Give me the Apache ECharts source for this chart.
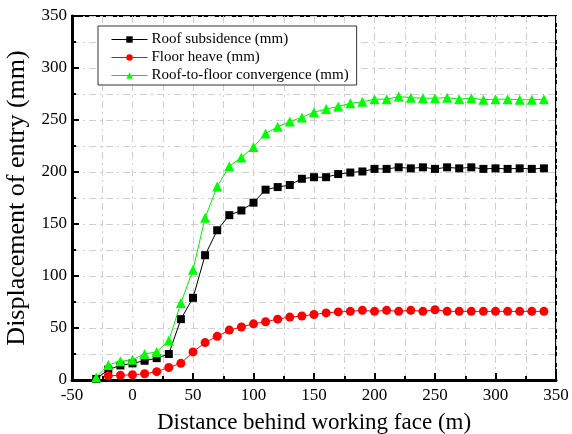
<!DOCTYPE html>
<html>
<head>
<meta charset="utf-8">
<script src="https://cdn.jsdelivr.net/npm/echarts@6/dist/echarts.min.js"></script>
<style>
  html, body { margin: 0; padding: 0; background: #fff; }
  #chart { width: 572px; height: 434px; }
</style>
</head>
<body>
<div id="chart"></div>
<script>
// Distance behind the working face (m)
const distances = [-30, -20, -10, 0, 10, 20, 30, 40, 50, 60, 70, 80, 90, 100, 110, 120, 130, 140, 150,
  160, 170, 180, 190, 200, 210, 220, 230, 240, 250, 260, 270, 280, 290, 300, 310, 320, 330, 340];

// Roof subsidence (mm), one value per distance
const roofSubsidence = [1, 10, 14, 16, 18.5, 21, 25, 58.5, 79, 120, 144, 158.5, 163, 170.5, 183, 185.5,
  187.5, 193.5, 195, 195, 198, 199.5, 200.5, 203, 203, 204.5, 203.5, 204.5, 203, 204.5, 203.5, 204.5,
  203, 203.5, 203, 203.5, 203, 203.5];

// Floor heave (mm); first reading at -20 m
const floorHeave = [null, 4, 4.5, 5, 6, 8, 12, 16, 27, 36, 42, 48, 51, 54, 56, 58.5, 60.5, 61.5, 63,
  64.5, 65.5, 66, 67, 66, 67, 66, 67, 66, 67.5, 66, 66, 66, 66, 66, 66, 66, 66, 66];

// Roof-to-floor convergence (mm)
const convergence = [2.5, 14.5, 18, 19.5, 25, 27, 38, 74, 106, 156, 186, 205.5, 214, 224, 237, 243.5,
  248.5, 252.5, 257.5, 260.5, 263, 266, 267.5, 270, 270, 272.5, 271.5, 271, 271, 271.5, 270, 271,
  269.5, 270, 270, 269.5, 269.5, 270];

const seriesNames = ['Roof subsidence (mm)', 'Floor heave (mm)', 'Roof-to-floor convergence (mm)'];
const xTitle = 'Distance behind working face (m)';
const yTitle = 'Displacement of entry (mm)';

const FONT = '"Liberation Serif", "DejaVu Serif", serif';

function pairs(values) {
  return distances.map((d, i) => [d, values[i]]);
}

const gridDash = {
  show: true,
  lineStyle: { color: '#cfcfcf', width: 1, type: [7, 4, 2, 4] }
};

const chart = echarts.init(document.getElementById('chart'), null, { renderer: 'canvas' });

chart.setOption({
  animation: false,
  backgroundColor: '#ffffff',
  grid: {
    left: 72, right: 16, top: 16, bottom: 54,
    outerBoundsMode: 'none',
    containLabel: false,
    show: true, borderColor: '#000', borderWidth: 2, backgroundColor: 'transparent'
  },
  legend: {
    left: 98, top: 26, width: 260,
    orient: 'vertical',
    padding: [6, 8, 2, 13],
    itemGap: 3,
    itemWidth: 36,
    itemHeight: 8,
    borderColor: '#333', borderWidth: 1,
    backgroundColor: '#fff',
    lineStyle: { width: 1 },
    textStyle: { fontFamily: FONT, fontSize: 15, color: '#000', padding: [0, 0, 0, -1] },
    data: seriesNames
  },
  xAxis: {
    type: 'value',
    min: -50, max: 350, interval: 50,
    name: xTitle,
    nameLocation: 'middle',
    nameGap: 31,
    nameTextStyle: { fontFamily: FONT, fontSize: 23, color: '#000' },
    axisLine: { show: true, onZero: false, lineStyle: { color: '#000', width: 3 } },
    axisTick: { show: true, inside: true, length: 7, lineStyle: { color: '#000', width: 2 } },
    minorTick: { show: true, splitNumber: 2, length: 4, lineStyle: { color: '#000', width: 2 } },
    axisLabel: { fontFamily: FONT, fontSize: 17, color: '#000', margin: 7 },
    splitLine: gridDash,
    minorSplitLine: gridDash
  },
  yAxis: {
    type: 'value',
    min: 0, max: 350, interval: 50,
    name: yTitle,
    nameLocation: 'middle',
    nameGap: 24,
    nameTextStyle: { fontFamily: FONT, fontSize: 26, color: '#000' },
    axisLine: { show: true, onZero: false, lineStyle: { color: '#000', width: 3 } },
    axisTick: { show: true, inside: true, length: 7, lineStyle: { color: '#000', width: 2 } },
    minorTick: { show: true, splitNumber: 2, length: 4, lineStyle: { color: '#000', width: 2 } },
    axisLabel: { fontFamily: FONT, fontSize: 17, color: '#000', margin: 5 },
    splitLine: gridDash,
    minorSplitLine: gridDash
  },
  series: [
    {
      name: seriesNames[0], type: 'line', data: pairs(roofSubsidence),
      symbol: 'rect', symbolSize: 8,
      itemStyle: { color: '#000' },
      lineStyle: { color: '#000', width: 1 },
      z: 3
    },
    {
      name: seriesNames[1], type: 'line', data: pairs(floorHeave),
      symbol: 'circle', symbolSize: 9,
      itemStyle: { color: '#ff0000' },
      lineStyle: { color: '#ff0000', width: 1 },
      z: 4
    },
    {
      name: seriesNames[2], type: 'line', data: pairs(convergence),
      symbol: 'triangle', symbolSize: 10,
      itemStyle: { color: '#00ff00' },
      lineStyle: { color: '#00ee00', width: 1 },
      z: 5
    }
  ]
});
</script>
</body>
</html>
